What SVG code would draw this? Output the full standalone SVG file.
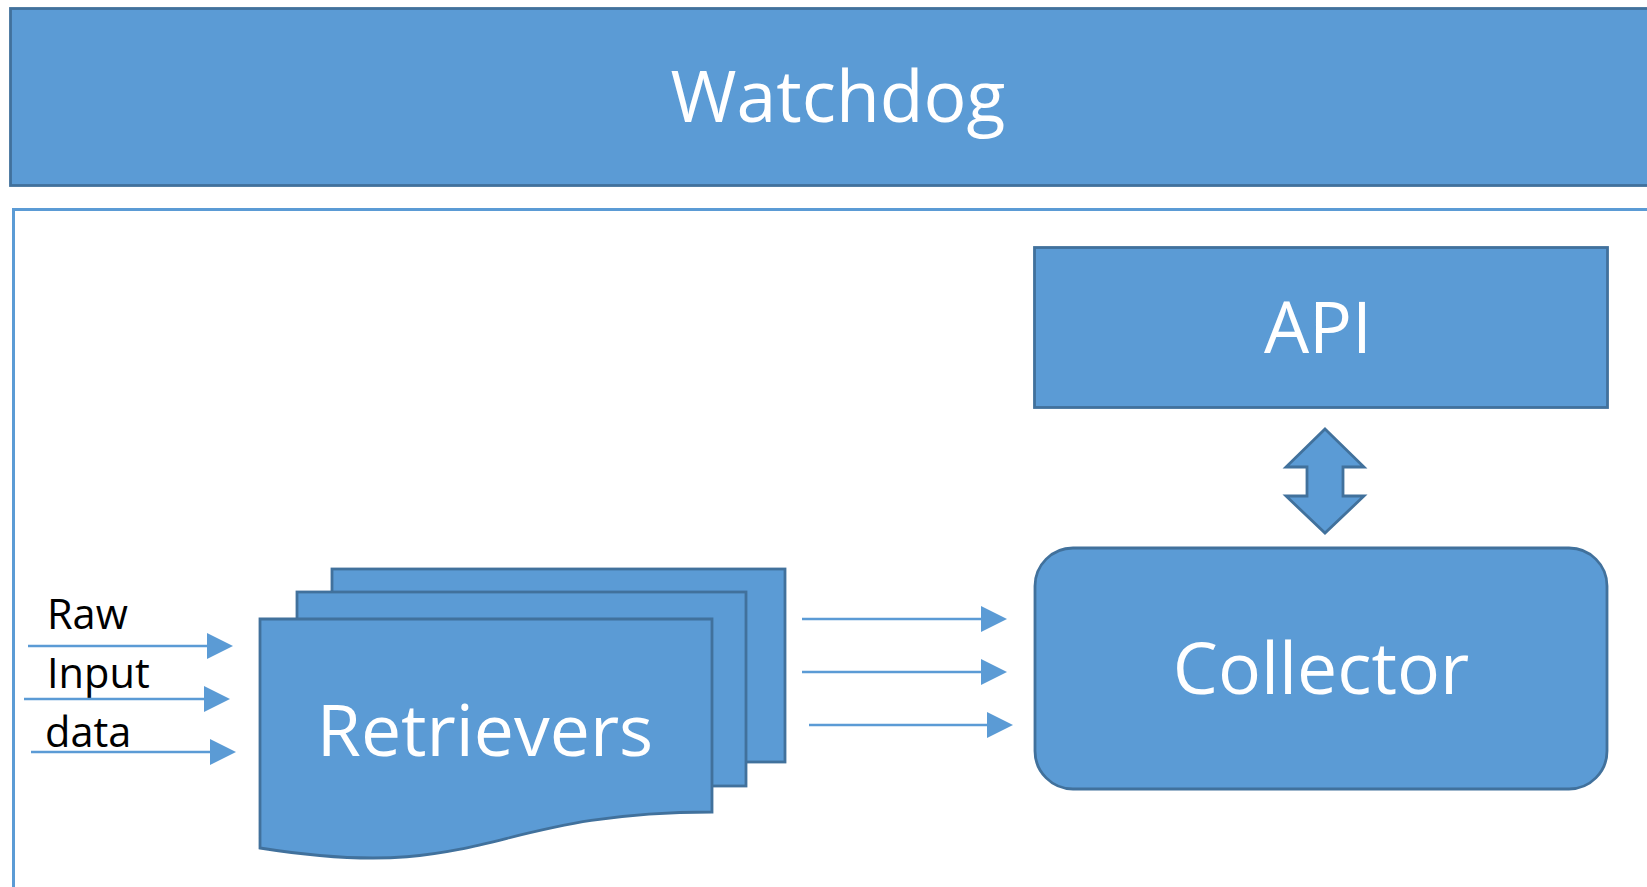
<svg xmlns="http://www.w3.org/2000/svg" width="1647" height="887" viewBox="0 0 1647 887">
  <style>
    .box { fill: #5B9BD5; stroke: #41719C; stroke-width: 2.8; }
    .big { font-family: "Open Sans", "Noto Sans", "Liberation Sans", sans-serif; font-size: 71.5px; fill: #FFFFFF; text-anchor: middle; }
    .small { font-family: "Open Sans", "Noto Sans", "Liberation Sans", sans-serif; font-size: 41.5px; fill: #000000; }
    .flow { stroke: #5B9BD5; stroke-width: 2.7; fill: none; marker-end: url(#head); }
  </style>
  <defs>
    <marker id="head" viewBox="0 0 26 26" refX="0" refY="13" markerWidth="26" markerHeight="26" markerUnits="userSpaceOnUse" orient="auto">
      <path d="M0,0 L26,13 L0,26 Z" fill="#5B9BD5"/>
    </marker>
  </defs>
  <rect width="1647" height="887" fill="#FFFFFF"/>

  <!-- top banner -->
  <g id="watchdog">
    <rect class="box" x="10.5" y="8.5" width="1660" height="177" stroke-width="3"/>
    <text class="big" x="838" y="122">Watchdog</text>
  </g>

  <!-- enclosing frame -->
  <g id="frame">
    <rect x="13.5" y="209.5" width="1700" height="720" fill="none" stroke="#5B9BD5" stroke-width="3"/>
  </g>

  <!-- input labels -->
  <g id="inputs">
    <text class="small" x="47" y="629">Raw</text>
    <text class="small" x="47" y="688">Input</text>
    <text class="small" x="45" y="747">data</text>
  </g>

  <!-- stacked retriever documents -->
  <g id="retrievers">
    <rect class="box" x="332" y="569" width="453" height="193"/>
    <rect class="box" x="297" y="592" width="449" height="194"/>
    <path class="box" d="M260,619 L712,619 L712,812 C486,812 486,884 260,848 Z"/>
    <text class="big" x="485" y="756">Retrievers</text>
  </g>

  <g id="api">
    <rect class="box" x="1034.5" y="247.5" width="573" height="160"/>
    <text class="big" x="1318" y="353">API</text>
  </g>

  <g id="collector">
    <rect class="box" x="1035" y="548" width="572" height="241" rx="38" ry="38"/>
    <text class="big" x="1321" y="694">Collector</text>
  </g>

  <g id="connectors">
    <line class="flow" x1="28" y1="646" x2="207" y2="646"/>
    <line class="flow" x1="24" y1="699" x2="204" y2="699"/>
    <line class="flow" x1="31" y1="752" x2="210" y2="752"/>
    <line class="flow" x1="802" y1="619" x2="981" y2="619"/>
    <line class="flow" x1="802" y1="672" x2="981" y2="672"/>
    <line class="flow" x1="809" y1="725" x2="987" y2="725"/>
    <polygon class="box" stroke-width="2.5" points="1325,429 1364,467 1343,467 1343,496 1364,496 1325,533 1286,496 1307,496 1307,467 1286,467"/>
  </g>
</svg>
